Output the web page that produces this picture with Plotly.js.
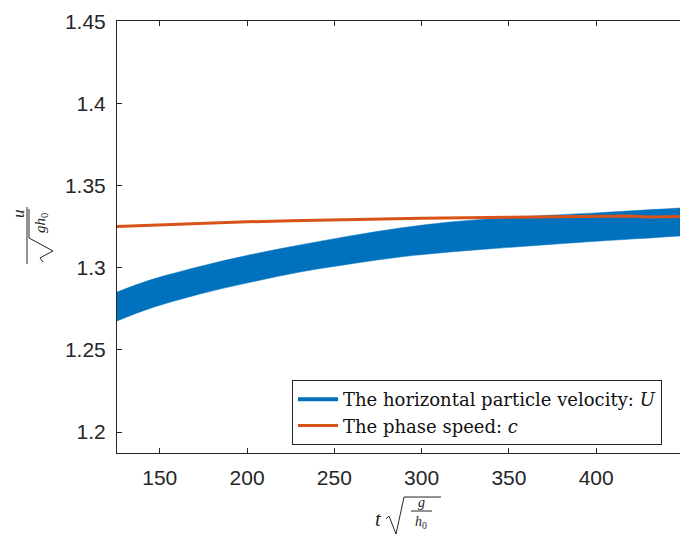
<!DOCTYPE html>
<html><head><meta charset="utf-8">
<script src="https://cdn.plot.ly/plotly-3.0.1.min.js"></script>
<style>html,body{margin:0;padding:0;background:#fff;overflow:hidden}</style>
</head><body><div id="chart" style="width:680px;height:536px"></div>
<script>
// ---- data ----
const tBand  = [125.5, 144.4, 173.0, 201.7, 230.3, 259.0, 287.6, 316.2, 344.9, 373.5, 402.2, 425.1, 448.0];
const uUpper = [1.2853, 1.2926, 1.3009, 1.3080, 1.3140, 1.3195, 1.3243, 1.3280, 1.3303, 1.3321, 1.3337, 1.3351, 1.3365];
const uLower = [1.2677, 1.2753, 1.2841, 1.2912, 1.2975, 1.3024, 1.3067, 1.3097, 1.3121, 1.3143, 1.3164, 1.3179, 1.3195];
const tPhase = [125.5, 150, 175, 200, 225, 250, 275, 300, 325, 350, 375, 400, 410, 420, 430, 440, 448];
const cPhase = [1.3253, 1.3263, 1.3273, 1.3281, 1.3287, 1.3293, 1.3299, 1.3303, 1.3306, 1.3309, 1.3312, 1.3315, 1.3312, 1.3316, 1.3310, 1.3314, 1.3313];
const xTicks = [150, 200, 250, 300, 350, 400];
const yTicks = [1.2, 1.25, 1.3, 1.35, 1.4, 1.45];
const yTickText = ['1.2', '1.25', '1.3', '1.35', '1.4', '1.45'];
const nameU = 'The horizontal particle velocity: <i>U</i>';
const nameC = 'The phase speed: <i>c</i>';

// ---- layout helpers ----
const W = 680, H = 536, M = {l: 117, r: 0, t: 21, b: 83};
const PW = W - M.l - M.r, PH = H - M.t - M.b;
const px = x => (x - M.l) / PW;
const py = y => (H - M.b - y) / PH;
const path = pts => pts.map((p, i) => (i ? 'L' : 'M') + px(p[0]).toFixed(4) + ',' + py(p[1]).toFixed(4)).join(' ');
const ink = '#262626';
const serif = 'Liberation Serif, Times New Roman, serif';
const sans = 'Liberation Sans, Arial, Helvetica, sans-serif';
const blue = '#0072BD', orange = '#D95319';

const traces = [
  {x: tBand, y: uLower, mode: 'lines', line: {color: blue, width: 0.5, shape: 'spline'}, showlegend: false, hoverinfo: 'skip'},
  {x: tBand, y: uUpper, mode: 'lines', line: {color: blue, width: 0.5, shape: 'spline'}, fill: 'tonexty', fillcolor: blue, showlegend: false, hoverinfo: 'skip'},
  {x: [null], y: [null], mode: 'lines', line: {color: blue, width: 4}, name: nameU},
  {x: tPhase, y: cPhase, mode: 'lines', line: {color: orange, width: 3}, name: nameC}
];

const ann = (x, y, text, size, angle) => ({xref: 'paper', yref: 'paper', x: px(x), y: py(y), text: text,
  showarrow: false, textangle: angle || 0, font: {family: serif, size: size, color: ink}, xanchor: 'center', yanchor: 'middle'});

const layout = {
  width: W, height: H, margin: M,
  paper_bgcolor: '#fff', plot_bgcolor: '#fff',
  xaxis: {range: [125.5, 448], tickvals: xTicks, ticks: 'inside', ticklen: 5, tickcolor: ink,
    showline: true, linecolor: ink, linewidth: 1, mirror: 'ticks', showgrid: false, zeroline: false,
    tickfont: {family: sans, size: 21, color: ink}, ticklabelstandoff: 6},
  yaxis: {range: [1.1872, 1.4505], tickvals: yTicks, ticktext: yTickText, ticks: 'inside', ticklen: 5, tickcolor: ink,
    showline: true, linecolor: ink, linewidth: 1, mirror: false, showgrid: false, zeroline: false,
    tickfont: {family: sans, size: 21, color: ink}, ticklabelstandoff: 6},
  legend: {x: px(292), y: py(380), xanchor: 'left', yanchor: 'top', bgcolor: '#fff', bordercolor: ink, borderwidth: 1,
    font: {family: 'DejaVu Serif, serif', size: 18, color: '#111'}, tracegroupgap: 0, traceorder: 'normal', itemwidth: 40},
  annotations: [
    ann(18, 214, '<i>u</i>', 17, -90),
    ann(41, 223, '<i>gh</i><sub>0</sub>', 15, -90),
    ann(378, 519, '<i>t</i>', 21, 0),
    ann(421, 502, '<i>g</i>', 14, 0),
    ann(421, 522, '<i>h</i><sub>0</sub>', 14, 0)
  ],
  shapes: [
    {type: 'line', xref: 'paper', yref: 'paper', x0: px(27), x1: px(27), y0: py(207), y1: py(264), line: {color: ink, width: 1}},
    {type: 'path', xref: 'paper', yref: 'paper', path: path([[43, 262], [40, 258], [53, 251], [29, 238], [29, 209]]), line: {color: ink, width: 1}},
    {type: 'path', xref: 'paper', yref: 'paper', path: path([[386, 519], [389, 516], [396, 534], [404, 497], [441, 497]]), line: {color: ink, width: 1}},
    {type: 'line', xref: 'paper', yref: 'paper', x0: px(411), x1: px(432), y0: py(511), y1: py(511), line: {color: ink, width: 1}}
  ]
};

Plotly.newPlot('chart', traces, layout, {staticPlot: true, displayModeBar: false});
</script></body></html>
